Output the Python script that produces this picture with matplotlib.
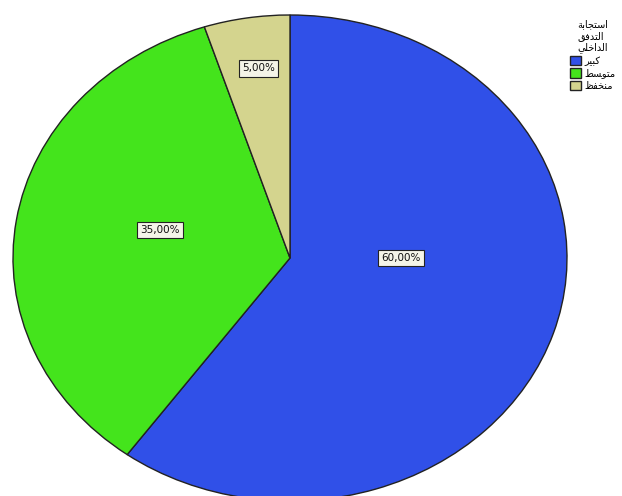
import matplotlib
matplotlib.use("Agg")
import matplotlib.pyplot as plt

# Arabic written in presentation forms, visual order (matplotlib has no shaping)
legend_title = "\n".join([
    "\uFE94\uFE91\uFE8E\uFEA0\uFE98\uFEB3\uFE8D",   # استجابة
    "\uFED6\uFED3\uFEAA\uFE98\uFEDF\uFE8D",         # التدفق
    "\uFEF2\uFEE0\uFEA7\uFE8D\uFEAA\uFEDF\uFE8D",   # الداخلي
])
categories = [
    "\uFEAE\uFEF4\uFE92\uFEDB",                     # كبير
    "\uFEC2\uFEB4\uFEEE\uFE98\uFEE3",               # متوسط
    "\uFEC6\uFED4\uFEA8\uFEE8\uFEE3",               # منخفض
]
shares = [60.0, 35.0, 5.0]
colors = ["#3050e8", "#44e41c", "#d4d48e"]

fig = plt.figure(figsize=(6.22, 4.96), dpi=100)
ax = fig.add_axes([13/622, -5/496, 554/622, 486/496])

wedges, texts, autotexts = ax.pie(
    shares, colors=colors, startangle=90, counterclock=False,
    wedgeprops=dict(edgecolor="#222222", linewidth=1.0),
    autopct=lambda p: ("%.2f%%" % p).replace(".", ","),
    textprops=dict(fontsize=7.5, color="#111111"))
ax.set_aspect("auto")
ax.set_xlim(-1, 1)
ax.set_ylim(-1, 1)

# SPSS-like label spots inside each slice
label_pos = [(0.40, 0.0), (-0.47, 0.115), (-0.115, 0.78)]
for t, pos in zip(autotexts, label_pos):
    t.set_position(pos)
    t.set_bbox(dict(boxstyle="square,pad=0.3", facecolor="#f4f4e8",
                    edgecolor="#222222", linewidth=0.8))

leg = fig.legend(wedges, categories, title=legend_title,
                 loc="upper right", bbox_to_anchor=(1.0, 0.975),
                 frameon=False, fontsize=7, title_fontsize=7,
                 handlelength=1.1, handleheight=1.1, handletextpad=0.3,
                 labelspacing=0.25, borderpad=0.2)
leg._legend_box.align = "center"

fig.savefig("out.png", dpi=100)
